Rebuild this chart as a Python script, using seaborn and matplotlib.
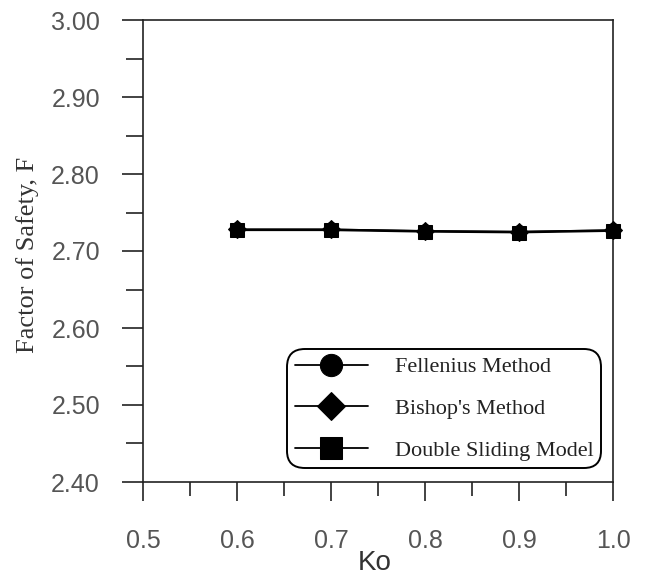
import matplotlib
matplotlib.use("Agg")
import matplotlib.pyplot as plt
import seaborn as sns
import pandas as pd
from matplotlib.ticker import MultipleLocator, FormatStrFormatter

# Data
ko_values = [0.6, 0.7, 0.8, 0.9, 1.0]
fellenius = [2.728, 2.728, 2.726, 2.725, 2.727]
bishop = [2.728, 2.728, 2.726, 2.725, 2.727]
double_sliding = [2.727, 2.727, 2.725, 2.724, 2.726]
series_names = ["Fellenius Method", "Bishop's Method", "Double Sliding Model"]
x_ticks = [0.5, 0.6, 0.7, 0.8, 0.9, 1.0]
y_ticks = [2.40, 2.50, 2.60, 2.70, 2.80, 2.90, 3.00]

sns.set_theme(style="white")
plt.rcParams["font.family"] = ["Liberation Sans", "DejaVu Sans"]

fig = plt.figure(figsize=(6.51, 5.78), dpi=100)
ax = fig.add_axes([143 / 651, 1 - 482 / 578, (613 - 143) / 651, (482 - 20) / 578])

df = pd.concat([
    pd.DataFrame({"Ko": ko_values, "F": vals, "method": name})
    for name, vals in zip(series_names, [fellenius, bishop, double_sliding])
])

markers = ["o", "D", "s"]
msizes = [10, 9, 9.5]
for name, mk, ms in zip(series_names, markers, msizes):
    sub = df[df["method"] == name]
    sns.lineplot(data=sub, x="Ko", y="F", ax=ax, color="black", marker=mk,
                 markersize=ms, markeredgecolor="black", linewidth=1.3,
                 label=name, zorder=3, clip_on=False)

ax.set_xlim(0.5, 1.0)
ax.set_ylim(2.40, 3.00)
ax.set_xticks(x_ticks)
ax.set_yticks(y_ticks)
ax.xaxis.set_minor_locator(MultipleLocator(0.05))
ax.yaxis.set_minor_locator(MultipleLocator(0.05))
ax.xaxis.set_major_formatter(FormatStrFormatter("%.1f"))
ax.yaxis.set_major_formatter(FormatStrFormatter("%.2f"))

for sp in ax.spines.values():
    sp.set_visible(True)
    sp.set_color("#222222")
    sp.set_linewidth(1.2)

tick_color = "#555555"
ax.tick_params(axis="x", which="major", direction="out", length=14, width=1.2,
               color="#222222", pad=20, labelsize=18, labelcolor=tick_color,
               bottom=True)
ax.tick_params(axis="x", which="minor", direction="out", length=10, width=1.2,
               color="#222222", bottom=True)
ax.tick_params(axis="y", which="major", direction="out", length=15, width=1.2,
               color="#222222", pad=16, labelsize=18, labelcolor=tick_color,
               left=True)
ax.tick_params(axis="y", which="minor", direction="out", length=12, width=1.2,
               color="#222222", left=True)

ax.set_xlabel("Ko", fontsize=20, color="#333333", family=["Liberation Sans"],
              va="center")
ax.xaxis.set_label_coords((375 - 143) / 470, -(563 - 482) / 462)
ax.set_ylabel("Factor of Safety, F", fontsize=19, color="#333333",
              family=["Liberation Serif"], va="center")
ax.yaxis.set_label_coords(-(143 - 28) / 470, (482 - 255) / 462)

handles, labels = ax.get_legend_handles_labels()
leg = ax.legend(handles, labels, loc="upper left",
                bbox_to_anchor=(287 / 651, 1 - 349 / 578),
                bbox_transform=fig.transFigure, borderaxespad=0,
                prop={"family": "Liberation Serif", "size": 16},
                handlelength=3.3, handletextpad=1.2, labelspacing=0.95,
                borderpad=0.35, markerscale=1.6, frameon=True, fancybox=True,
                framealpha=1, edgecolor="black")
leg.get_frame().set_linewidth(1.4)
leg.get_frame().set_boxstyle("round,pad=0,rounding_size=0.8")
for t in leg.get_texts():
    t.set_color("#222222")

fig.savefig("out.png", dpi=100)
